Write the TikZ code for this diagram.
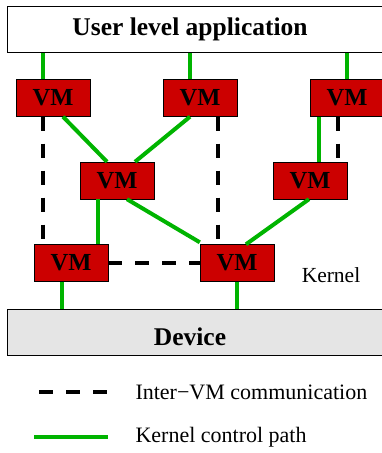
\documentclass[tikz,border=0pt]{standalone}
\usepackage{fontspec}
\setmainfont{Liberation Serif}
\definecolor{vmred}{RGB}{204, 0, 0}
\definecolor{pathgreen}{RGB}{0, 180, 0}
\usepackage{tikz}

\tikzset{
  vmbox/.style={draw, fill=vmred, minimum width=74pt, minimum height=37pt, inner sep=0pt, font=\fontsize{24.5}{24.5}\selectfont\bfseries},
  ctrl/.style={draw=pathgreen, line width=4pt},
  intervm/.style={draw=black, line width=4pt, dash pattern=on 14pt off 13pt}
}

\begin{document}
\begin{tikzpicture}[x=1pt, y=-1pt]
\useasboundingbox (0,0) rectangle (381,453);

% layers
\node[draw, line width=1.2pt, fill=white, anchor=north west, minimum width=400pt, minimum height=46pt] (user) at (7,6) {};
\node[font=\fontsize{25.5}{25.5}\selectfont\bfseries] (usertext) at (190,29) {User level application};
\node[draw, line width=1.2pt, fill=gray!20, anchor=north west, minimum width=400pt, minimum height=46pt] (device) at (7,309) {};
\node[font=\fontsize{25.5}{25.5}\selectfont\bfseries] (devicetext) at (190,337) {Device};
\node[font=\fontsize{21.5}{21.5}\selectfont] (kernel) at (331,275) {Kernel};

% VMs
\node[vmbox] (vmA) at (53,98) {VM};
\node[vmbox] (vmB) at (200,98) {VM};
\node[vmbox] (vmC) at (347,98) {VM};
\node[vmbox] (vmD) at (117,180.5) {VM};
\node[vmbox] (vmE) at (310,180.5) {VM};
\node[vmbox] (vmF) at (71,263) {VM};
\node[vmbox] (vmG) at (237,263) {VM};

% kernel control paths
\draw[ctrl] ([xshift=-10pt]vmA.north) -- ([xshift=-10pt]vmA.north |- user.south);
\draw[ctrl] ([xshift=-10pt]vmB.north) -- ([xshift=-10pt]vmB.north |- user.south);
\draw[ctrl] (vmC.north) -- (vmC.north |- user.south);
\draw[ctrl] ([xshift=10pt]vmA.south) -- ([xshift=-10pt]vmD.north);
\draw[ctrl] ([xshift=-10pt]vmB.south) -- ([xshift=18pt]vmD.north);
\draw[ctrl] ([xshift=-28pt]vmC.south) -- ([xshift=9pt]vmE.north);
\draw[ctrl] ([xshift=-19pt]vmD.south) -- ([xshift=27pt]vmF.north);
\draw[ctrl] ([xshift=10pt]vmD.south) -- ([yshift=2pt]vmG.north west);
\draw[ctrl] ([xshift=-1pt]vmE.south) -- ([xshift=9pt]vmG.north);
\draw[ctrl] ([xshift=-9pt]vmF.south) -- ([xshift=-9pt]vmF.south |- device.north);
\draw[ctrl] (vmG.south) -- (vmG.south |- device.north);

% inter-VM communication
\draw[intervm] ([xshift=-10pt]vmA.south) -- ([xshift=-28pt]vmF.north);
\draw[intervm] ([xshift=18pt]vmB.south) -- ([xshift=-19pt]vmG.north);
\draw[intervm] ([xshift=-9pt]vmC.south) -- ([xshift=28pt]vmE.north);
\draw[intervm] (vmF.east) -- (vmG.west);

% legend
\coordinate (dashA) at (39,392);
\coordinate (dashB) at (108,392);
\coordinate (lineA) at (34,437);
\coordinate (lineB) at (108,437);
\draw[intervm] (dashA) -- (dashB);
\draw[ctrl] (lineA) -- (lineB);
\node[anchor=west, font=\fontsize{22}{22}\selectfont] (intertext) at (132,392) {Inter−VM communication};
\node[anchor=west, font=\fontsize{22}{22}\selectfont] (ctrltext) at (132,437) {Kernel control path};
\end{tikzpicture}
\end{document}
